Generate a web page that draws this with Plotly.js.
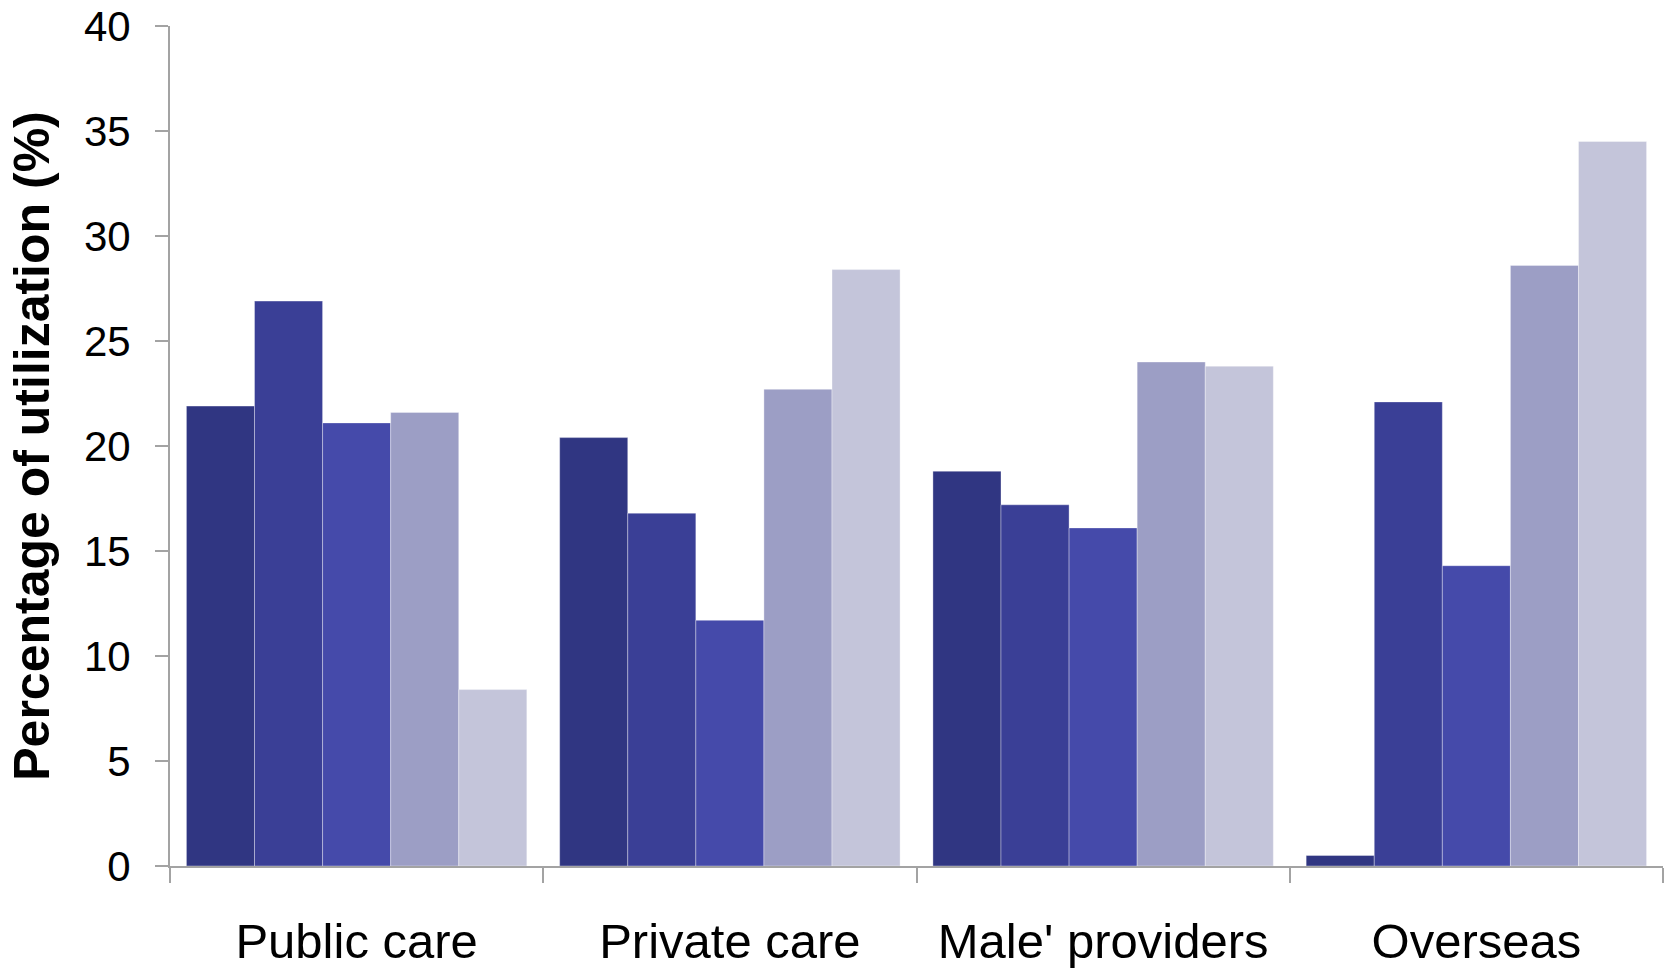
<!DOCTYPE html>
<html>
<head>
<meta charset="utf-8">
<script src="https://cdn.plot.ly/plotly-3.0.1.min.js"></script>
<style>
  html, body { margin: 0; padding: 0; background: #ffffff; }
  #chart { width: 1666px; height: 968px; }
</style>
</head>
<body>
<div id="chart"></div>
<script>
// Utilization categories along the x axis
const categories = ["Public care", "Private care", "Male' providers", "Overseas"];

// Five groups, one bar each per category (percent)
const group1 = [21.9, 20.4, 18.8, 0.5];
const group2 = [26.9, 16.8, 17.2, 22.1];
const group3 = [21.1, 11.7, 16.1, 14.3];
const group4 = [21.6, 22.7, 24.0, 28.6];
const group5 = [8.4, 28.4, 23.8, 34.5];

const yTicks = [0, 5, 10, 15, 20, 25, 30, 35, 40];

const seriesValues = [group1, group2, group3, group4, group5];
const seriesColors = ["#303682", "#3a3f96", "#454aaa", "#9c9ec5", "#c4c5da"];

const traces = seriesValues.map((vals, i) => ({
  type: "bar",
  x: categories,
  y: vals,
  name: "Group " + (i + 1),
  marker: {
    color: seriesColors[i],
    line: { color: "rgba(255,255,255,0.35)", width: 1 }
  },
  hoverinfo: "x+y"
}));

const axisGrey = "#a3a3a3";

const layout = {
  width: 1666,
  height: 968,
  margin: { l: 170, r: 3, t: 26, b: 102 },
  paper_bgcolor: "#ffffff",
  plot_bgcolor: "#ffffff",
  showlegend: false,
  barmode: "group",
  bargap: 0.088,
  bargroupgap: 0,
  font: { family: "Liberation Sans, Arial, sans-serif", color: "#000000" },
  xaxis: {
    type: "category",
    range: [-0.5, 3.5],
    showline: true,
    linecolor: axisGrey,
    linewidth: 2,
    ticks: "outside",
    tickson: "boundaries",
    ticklen: 15,
    tickwidth: 2,
    tickcolor: axisGrey,
    showgrid: false,
    zeroline: false,
    tickfont: { size: 49, family: "Liberation Sans, Arial, sans-serif", color: "#000000" },
    ticklabelstandoff: 31
  },
  yaxis: {
    range: [0, 40],
    tickvals: yTicks,
    ticktext: yTicks.map(String),
    showline: true,
    linecolor: axisGrey,
    linewidth: 2,
    ticks: "outside",
    ticklen: 13,
    tickwidth: 2,
    tickcolor: axisGrey,
    showgrid: false,
    zeroline: false,
    tickfont: { size: 42, family: "Liberation Sans, Arial, sans-serif", color: "#000000" },
    ticklabelstandoff: 16,
    title: {
      text: "<b>Percentage of utilization (%)</b>",
      font: { size: 50, family: "Liberation Sans, Arial, sans-serif", color: "#000000" },
      standoff: 18
    }
  }
};

Plotly.newPlot("chart", traces, layout, { displayModeBar: false, staticPlot: true });
</script>
</body>
</html>
